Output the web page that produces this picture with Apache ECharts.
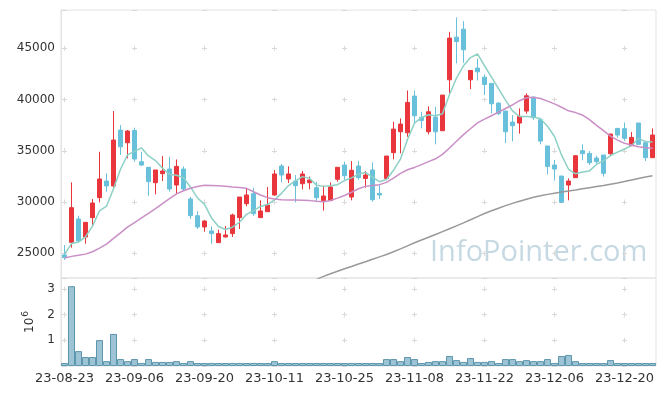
<!DOCTYPE html>
<html><head><meta charset="utf-8">
<script src="https://cdn.jsdelivr.net/npm/echarts@6/dist/echarts.min.js"></script>
<style>html,body{margin:0;padding:0;background:#fff}#c{width:665px;height:396px}</style>
</head><body><div id="c"></div>
<script>
const dates = ['23-08-23','23-08-24','23-08-25','23-08-28','23-08-29','23-08-30','23-08-31','23-09-01','23-09-04','23-09-05','23-09-06','23-09-07','23-09-08','23-09-11','23-09-12','23-09-13','23-09-14','23-09-15','23-09-18','23-09-19','23-09-20','23-09-21','23-09-22','23-09-25','23-09-26','23-09-27','23-10-04','23-10-05','23-10-06','23-10-10','23-10-11','23-10-12','23-10-13','23-10-16','23-10-17','23-10-18','23-10-19','23-10-20','23-10-23','23-10-24','23-10-25','23-10-26','23-10-27','23-10-30','23-10-31','23-11-01','23-11-02','23-11-03','23-11-06','23-11-07','23-11-08','23-11-09','23-11-10','23-11-13','23-11-14','23-11-15','23-11-16','23-11-17','23-11-20','23-11-21','23-11-22','23-11-23','23-11-24','23-11-27','23-11-28','23-11-29','23-11-30','23-12-01','23-12-04','23-12-05','23-12-06','23-12-07','23-12-08','23-12-11','23-12-12','23-12-13','23-12-14','23-12-15','23-12-18','23-12-19','23-12-20','23-12-21','23-12-22','23-12-26','23-12-27'];
const opens = [24840,26070,28350,26590,28480,30430,32050,31570,37020,35790, 36990,33940,33390,31890,32770,33220,31660,33220,30300,28670, 27570,27180,26040,26590,26920,28480,29840,30820,28480,29060, 30690,33520,32250,32050,31790,31890,31400,30140,30140,32220, 33610,30490,33520,32310,33130,30850,32310,34820,36860,36760, 40340,38260,36860,38290,36960,41930,46090,46870,41930,43070, 42190,41580,39660,38880,37800,37710,38880,40240,38030,35470, 33610,32540,31660,32380,35010,34750,34300,34590,34720,37190, 37160,35500,37710,35790,34330];
const closes = [24580,29450,26200,28020,29910,32250,31570,36050,35400,36930, 34200,33610,31990,33130,33030,31270,33480,31270,28670,27570, 28150,26920,26920,26790,28740,30490,30690,28870,29130,29710, 32740,32640,32740,31600,32740,32150,30430,30590,31470,33390, 32570,33100,32380,32640,30230,30690,34490,37120,37610,39720, 38420,37970,38810,36860,40440,46000,45670,44860,42840,42710, 41480,39590,38620,36860,37450,38360,40370,38230,35950,33480, 33220,29970,32050,34520,34720,33840,33940,32800,36640,36540, 36220,36310,35630,34330,36540];
const lows = [24350,25550,26070,25940,27760,29970,31010,31180,34590,34260, 33940,33550,30620,30750,32050,31010,30750,31080,28350,27370, 27110,25940,26040,26560,26590,27370,29580,28670,28480,29060, 30620,31920,31860,29970,31240,31240,30040,29160,30140,31990, 32180,30170,32180,31400,30040,30300,32150,34160,34750,36370, 37640,37190,36600,35630,36960,40600,43520,43590,41020,41870, 40440,38650,38490,35760,35920,36670,38620,38030,35630,32700, 32090,29910,30170,32380,34070,33610,33740,32480,34590,36280, 35960,35500,35560,34000,34330];
const highs = [25810,31920,28670,28020,30300,34910,32800,38880,37510,37020, 37250,34910,33390,33130,34490,34420,34160,33480,30490,29130, 28220,27630,27310,27660,28870,30490,31340,31400,30170,31470, 33130,33710,33480,32640,33030,32480,31990,31600,31920,33390, 33940,34000,34000,33030,33870,31660,34490,37840,38160,40890, 40890,38810,39330,39300,40440,46610,48010,47650,42840,44010, 42450,41580,39720,38880,38490,39140,40600,40240,38230,35470, 34100,32540,32310,34590,35630,34980,34520,34590,36640,37190, 37770,36830,37710,35790,37190];
const volumes = [80000,3110000,580000,350000,350000,1010000,190000,1250000,270000,190000, 270000,120000,270000,160000,160000,160000,190000,120000,190000,80000, 50000,120000,50000,50000,120000,120000,80000,120000,20000,50000, 190000,50000,80000,50000,50000,20000,50000,50000,50000,80000, 80000,120000,50000,20000,80000,20000,270000,270000,190000,350000, 270000,80000,160000,190000,190000,390000,230000,160000,310000,160000, 160000,190000,80000,270000,270000,190000,230000,190000,190000,270000, 120000,390000,430000,190000,80000,50000,50000,50000,230000,80000, 80000,50000,80000,80000,80000];
const ma5 = [24900,25950,26100,26600,27650,29150,29600,31300,33200,34600, 34950,35280,34500,34050,33300,32700,32620,32380,31450,30400, 29770,28450,27620,27320,27550,28030,28800,29170,29570,29760, 30210,30850,31610,32070,32480,32310,31650,31530,31590,31700, 32100,32360,32720,32900,32430,31990,32200,33100,34200,36100, 37700,38250,38520,38420,38620,40500,42100,43300,44100,44450, 43300,42200,41070,39950,38900,38350,38360,38290,38120,37400, 36400,34600,33200,32760,32930,33040,33670,34030,34540,34870, 35180,35500,36220,35900,35850];
const ma20 = [24550,24700,24800,24920,25150,25500,25900,26450,27000,27550, 28000,28450,28900,29350,29850,30330,30800,31100,31350,31520, 31650,31620,31590,31540,31480,31430,31340,31010,30690,30430, 30300,30230,30200,30200,30180,30140,30070,30040,30150,30380, 30640,30960,31300,31530,31620,31700,31920,32330,32800,33150, 33380,33650,33950,34220,34650,35280,35930,36580,37150,37720, 38090,38420,38770,39130,39490,39890,40180,40230,40100,39850, 39580,39250,38900,38730,38490,38040,37490,36970,36440,36050, 35730,35570,35400,35310,35240];
const ma60 = [null,null,null,null,null,null,null,null,null,null, null,null,null,null,null,null,null,null,null,null, null,null,null,null,null,null,null,null,null,null, null,null,null,null,null,22200,22450,22750,23000,23250, 23500,23720,23950,24180,24420,24650,24880,25150,25430,25730, 26030,26300,26560,26830,27110,27390,27680,27970,28270,28580, 28880,29150,29400,29650,29870,30080,30280,30460,30610,30750, 30870,30980,31080,31180,31290,31400,31510,31620,31740,31860, 32000,32150,32300,32440,32570];

const FONT = 'DejaVu Sans';
const UP = '#e8363c', DOWN = '#68c0da';
const ohlc = dates.map((d, i) => [opens[i], closes[i], lows[i], highs[i]]);
const plusColor = '#d9d9d9', borderColor = '#e3e3e3';
const hidden = {axisLine:{show:false}, axisTick:{show:false}, axisLabel:{show:false}};

const chart = echarts.init(document.getElementById('c'), null, {renderer:'canvas'});
chart.setOption({
  animation: false,
  textStyle: {fontFamily: FONT},
  grid: [
    {left:61, width:595, top:10, height:268, show:true, borderColor:borderColor, borderWidth:1},
    {left:61, width:595, top:278, height:88, show:true, borderColor:borderColor, borderWidth:1},
    {left:64.5, width:560, top:10, height:268},
    {left:64.5, width:560, top:278, height:88}
  ],
  xAxis: [
    Object.assign({type:'category', gridIndex:0, data:dates, boundaryGap:true, splitLine:{show:false}}, hidden),
    {type:'category', gridIndex:1, data:dates, boundaryGap:true,
     axisLine:{show:false}, axisTick:{show:false},
     axisLabel:{interval:9, fontSize:13, color:'#333', margin:6, fontFamily:FONT},
     splitLine:{show:false}},
    Object.assign({type:'value', gridIndex:2, min:0, max:80, interval:10,
     splitLine:{show:true, lineStyle:{color:plusColor, width:1, type:[5,46.245], dashOffset:15.41}}}, hidden),
    Object.assign({type:'value', gridIndex:3, min:0, max:80, interval:10,
     splitLine:{show:true, lineStyle:{color:plusColor, width:1, type:[5,20.656], dashOffset:17.13}}}, hidden)
  ],
  yAxis: [
    {type:'value', gridIndex:0, min:22590, max:48740, splitNumber:5, scale:true,
     axisLine:{show:true, lineStyle:{color:borderColor}}, axisTick:{show:false},
     axisLabel:{showMinLabel:false, showMaxLabel:false, fontSize:12, color:'#333', margin:6, fontFamily:FONT,
       formatter: v => String(v)},
     splitLine:{show:true, lineStyle:{color:plusColor, width:1, type:[5,65], dashOffset:69}}},
    {type:'value', gridIndex:1, min:0, max:3430000, interval:1000000,
     axisLine:{show:true, lineStyle:{color:borderColor}}, axisTick:{show:false},
     axisLabel:{showMinLabel:false, showMaxLabel:false, fontSize:12, color:'#333', margin:6, fontFamily:FONT,
       formatter: v => String(v / 1000000)},
     splitLine:{show:true, lineStyle:{color:plusColor, width:1, type:[5,65], dashOffset:69}},
     name:'{a|10}{b|6}', nameLocation:'middle', nameRotate:90, nameGap:25,
     nameTextStyle:{color:'#333', fontFamily:FONT, rich:{
       a:{fontSize:12, color:'#333', fontFamily:FONT, lineHeight:14, verticalAlign:'bottom'},
       b:{fontSize:9, color:'#333', fontFamily:FONT, lineHeight:14, verticalAlign:'top', padding:[0,0,6,1]}}}},
    Object.assign({type:'value', gridIndex:2, min:0, max:1, splitLine:{show:false}}, hidden),
    Object.assign({type:'value', gridIndex:3, min:0, max:1, splitLine:{show:false}}, hidden)
  ],
  graphic: [{
    type:'text', left:430, top:238, z:0, silent:true,
    style:{text:'InfoPointer.com', font:'29px "Open Sans"', fill:'#c6d9e3'}
  }],
  series: [
    {type:'candlestick', name:'OHLC', xAxisIndex:0, yAxisIndex:0, data:ohlc, barWidth:5, z:3,
     itemStyle:{color:UP, color0:DOWN, borderColor:UP, borderColor0:DOWN, borderWidth:1}},
    {type:'line', name:'MA5', xAxisIndex:0, yAxisIndex:0, data:ma5, symbol:'none', z:4,
     lineStyle:{color:'#8dd0c5', width:1.5}},
    {type:'line', name:'MA20', xAxisIndex:0, yAxisIndex:0, data:ma20, symbol:'none', z:4,
     lineStyle:{color:'#c98fc6', width:1.5}},
    {type:'line', name:'MA60', xAxisIndex:0, yAxisIndex:0, data:ma60, symbol:'none', z:4, clip:true,
     lineStyle:{color:'#999999', width:1.5}},
    {type:'bar', name:'Volume', xAxisIndex:1, yAxisIndex:1, data:volumes, barCategoryGap:'0%', barMinHeight:3, z:5,
     itemStyle:{color:'#9dc4d4', borderColor:'#5e96ae', borderWidth:1}}
  ]
});
</script>
</body></html>
